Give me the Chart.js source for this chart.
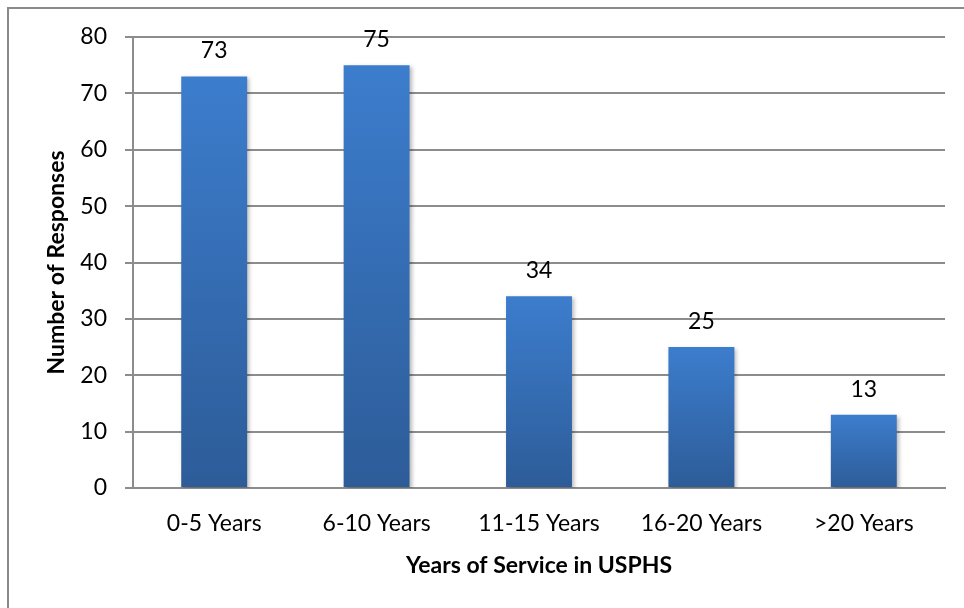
<!DOCTYPE html>
<html>
<head>
<meta charset="utf-8">
<script src="https://cdn.jsdelivr.net/npm/chart.js@4"></script>
<style>
  html, body { margin: 0; padding: 0; background: #fff; }
  #wrap { width: 964px; height: 608px; position: relative; }
</style>
</head>
<body>
<div id="wrap"><canvas id="serviceChart"></canvas></div>
<script>
var categories = ["0-5 Years", "6-10 Years", "11-15 Years", "16-20 Years", ">20 Years"];
var responses = [73, 75, 34, 25, 13];
var yTicks = [0, 10, 20, 30, 40, 50, 60, 70, 80];

var FONT = "Lato, 'Liberation Sans', sans-serif";

// vertical gradient for each bar, light at the top and darker at the base
function barFill(ctx) {
  var chart = ctx.chart;
  if (!chart.chartArea || ctx.dataIndex === undefined) return "#3a75c0";
  var y = chart.scales.y;
  var top = y.getPixelForValue(ctx.raw);
  var base = y.getPixelForValue(0);
  var g = chart.ctx.createLinearGradient(0, top, 0, base);
  g.addColorStop(0, "#3c7dcd");
  g.addColorStop(1, "#2d5c98");
  return g;
}

// outer frame around the chart
var framePlugin = {
  id: "frame",
  beforeDraw: function(chart) {
    var c = chart.ctx;
    c.save();
    c.strokeStyle = "#8a8a8a";
    c.lineWidth = 2;
    c.strokeRect(8, 8, 980, 640);
    c.restore();
  }
};

// soft shadow under the bars
var shadowPlugin = {
  id: "barShadow",
  beforeDatasetsDraw: function(chart) {
    var c = chart.ctx;
    c.save();
    c.shadowColor = "rgba(0,0,0,0.28)";
    c.shadowBlur = 4;
    c.shadowOffsetX = 2;
    c.shadowOffsetY = 2;
  },
  afterDatasetsDraw: function(chart) {
    chart.ctx.restore();
  }
};

// value written above each bar
var valueLabels = {
  id: "valueLabels",
  afterDatasetsDraw: function(chart) {
    var c = chart.ctx;
    var meta = chart.getDatasetMeta(0);
    c.save();
    c.font = "23px " + FONT;
    c.fillStyle = "#000";
    c.textAlign = "center";
    c.textBaseline = "alphabetic";
    meta.data.forEach(function(bar, i) {
      c.fillText(String(responses[i]), bar.x, bar.y - 18);
    });
    c.restore();
  }
};

new Chart("serviceChart", {
  type: "bar",
  data: {
    labels: categories,
    datasets: [{
      data: responses,
      backgroundColor: barFill,
      borderWidth: 0,
      categoryPercentage: 1,
      barPercentage: 0.406
    }]
  },
  options: {
    responsive: true,
    maintainAspectRatio: false,
    animation: false,
    layout: { padding: { top: 37, right: 19, bottom: 0, left: 0 } },
    plugins: {
      legend: { display: false },
      tooltip: { enabled: false }
    },
    scales: {
      x: {
        grid: { display: false, drawTicks: false },
        border: { display: true, color: "#8c8c8c", width: 2 },
        ticks: { color: "#000", font: { family: FONT, size: 23 }, padding: 22, maxRotation: 0 },
        title: {
          display: true,
          text: "Years of Service in USPHS",
          color: "#000",
          font: { family: FONT, size: 23, weight: "bold" },
          padding: { top: 0, bottom: 29 }
        },
        afterFit: function(s) { s.height = 120; }
      },
      y: {
        min: 0,
        max: 80,
        afterBuildTicks: function(s) { s.ticks = yTicks.map(function(v) { return { value: v }; }); },
        grid: { color: "#8c8c8c", lineWidth: 2, tickLength: 8 },
        border: { display: true, color: "#8c8c8c", width: 2 },
        ticks: { color: "#000", font: { family: FONT, size: 23 }, padding: 18 },
        title: {
          display: true,
          text: "Number of Responses",
          color: "#000",
          font: { family: FONT, size: 23, weight: "bold" },
          padding: { top: 43, bottom: 0 }
        },
        afterFit: function(s) { s.width = 133; }
      }
    }
  },
  plugins: [framePlugin, shadowPlugin, valueLabels]
});
</script>
</body>
</html>
